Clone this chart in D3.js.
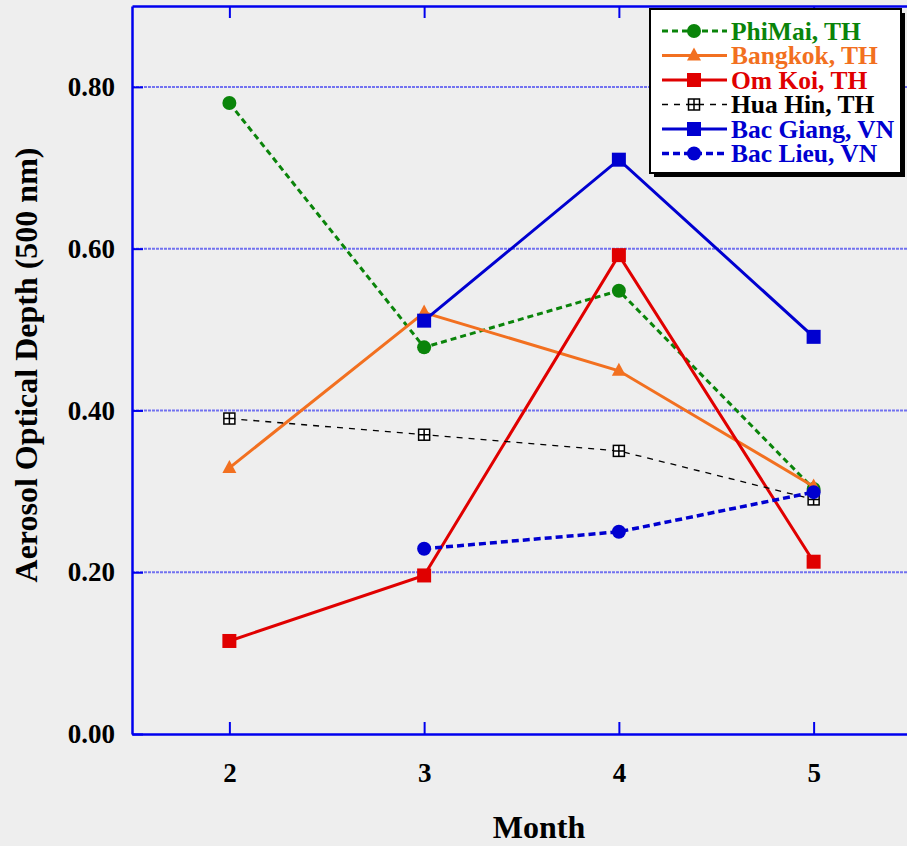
<!DOCTYPE html>
<html>
<head>
<meta charset="utf-8">
<script src="https://cdn.jsdelivr.net/npm/d3@7"></script>
<style>
  html, body { margin: 0; padding: 0; background: #eeeeee; }
  svg { display: block; }
  text { font-family: "Liberation Serif", "Times New Roman", serif; font-weight: bold; }
</style>
</head>
<body>
<svg id="chart" width="907" height="846"></svg>
<script>
// Monthly aerosol optical depth (500 nm) per site
const months = [2, 3, 4, 5];
const yTicks = [0, 0.2, 0.4, 0.6, 0.8];

const phiMai    = [0.780, 0.478, 0.548, 0.303];
const bangkok   = [0.329, 0.521, 0.449, 0.306];
const omKoi     = [0.115, 0.196, 0.592, 0.213];
const huaHin    = [0.390, 0.370, 0.350, 0.290];
const bacGiang  = [null, 0.511, 0.710, 0.491];
const bacLieu   = [null, 0.229, 0.250, 0.299];

const seriesNames = ["PhiMai, TH", "Bangkok, TH", "Om Koi, TH", "Hua Hin, TH", "Bac Giang, VN", "Bac Lieu, VN"];

const series = [
  { name: seriesNames[0], values: phiMai,   color: "#0a840a", width: 3,   dash: "6,4", marker: "circle" },
  { name: seriesNames[1], values: bangkok,  color: "#f27020", width: 3,   dash: null,  marker: "triangle" },
  { name: seriesNames[2], values: omKoi,    color: "#e00000", width: 3,   dash: null,  marker: "square" },
  { name: seriesNames[3], values: huaHin,   color: "#000000", width: 1.3, dash: "6,6", marker: "boxcross" },
  { name: seriesNames[4], values: bacGiang, color: "#0000d0", width: 3,   dash: null,  marker: "square" },
  { name: seriesNames[5], values: bacLieu,  color: "#0000d0", width: 3.5, dash: "7,4", marker: "circle" }
];

const svg = d3.select("#chart");
const plotLeft = 132, plotRight = 911, plotTop = 6, plotBottom = 734;
const axisColor = "#0000ee";

const x = d3.scaleLinear().domain([1.5, 5.5]).range([plotLeft, plotRight]);
const y = d3.scaleLinear().domain([0, 0.9]).range([plotBottom, plotTop]);

// gridlines
svg.append("g").selectAll("line").data(yTicks.filter(d => d > 0)).join("line")
  .attr("x1", plotLeft).attr("x2", plotRight)
  .attr("y1", d => y(d)).attr("y2", d => y(d))
  .attr("stroke", "#7272f0").attr("stroke-width", 2)
  .attr("stroke-dasharray", "3,1");

// axes
const yAxis = d3.axisLeft(y).tickValues(yTicks).tickFormat(d3.format(".2f")).tickSizeInner(-11).tickSizeOuter(0).tickPadding(17);
const gy = svg.append("g").attr("transform", `translate(${plotLeft},0)`).call(yAxis);
const xAxis = d3.axisBottom(x).tickValues(months).tickFormat(d3.format("d")).tickSizeInner(-12).tickSizeOuter(0);
const gx = svg.append("g").attr("transform", `translate(0,${plotBottom})`).call(xAxis);
const xTop = d3.axisTop(x).tickValues(months).tickFormat("").tickSizeInner(-12).tickSizeOuter(0);
const gt = svg.append("g").attr("transform", `translate(0,${plotTop})`).call(xTop);

[gy, gx, gt].forEach(g => {
  g.select(".domain").attr("stroke", axisColor).attr("stroke-width", 2.5);
  g.selectAll(".tick line").attr("stroke", axisColor).attr("stroke-width", 2);
  g.selectAll(".tick text").attr("fill", "#000").attr("font-size", 27)
    .attr("font-family", "Liberation Serif, serif").attr("font-weight", "bold");
});
gx.selectAll(".tick text").attr("y", 48).attr("dy", 0);

// axis titles
svg.append("text").attr("x", 539).attr("y", 838).attr("text-anchor", "middle")
  .attr("font-size", 32).text("Month");
svg.append("text").attr("transform", "translate(37,365) rotate(-90)")
  .attr("text-anchor", "middle").attr("font-size", 32)
  .text("Aerosol Optical Depth (500 nm)");

// markers
function drawMarker(g, type, cx, cy, color) {
  if (type === "circle") {
    g.append("circle").attr("cx", cx).attr("cy", cy).attr("r", 7).attr("fill", color);
  } else if (type === "square") {
    g.append("rect").attr("x", cx - 7).attr("y", cy - 7).attr("width", 14).attr("height", 14).attr("fill", color);
  } else if (type === "triangle") {
    g.append("path").attr("d", `M${cx},${cy - 8} L${cx + 7},${cy + 5} L${cx - 7},${cy + 5} Z`).attr("fill", color);
  } else if (type === "boxcross") {
    g.append("rect").attr("x", cx - 5.5).attr("y", cy - 5.5).attr("width", 11).attr("height", 11)
      .attr("fill", "#fff").attr("stroke", color).attr("stroke-width", 1.5);
    g.append("path").attr("d", `M${cx - 5.5},${cy} H${cx + 5.5} M${cx},${cy - 5.5} V${cy + 5.5}`)
      .attr("stroke", color).attr("stroke-width", 1.5);
  }
}

const line = d3.line().defined(d => d[1] !== null).x(d => x(d[0])).y(d => y(d[1]));
const plot = svg.append("g");
series.forEach(s => {
  const pts = months.map((m, i) => [m, s.values[i]]);
  const g = plot.append("g");
  g.append("path").datum(pts).attr("d", line).attr("fill", "none")
    .attr("stroke", s.color).attr("stroke-width", s.width)
    .attr("stroke-dasharray", s.dash);
  pts.filter(d => d[1] !== null).forEach(d => drawMarker(g, s.marker, x(d[0]), y(d[1]), s.color));
});

// legend
const lg = svg.append("g");
const lx = 650, ly = 9, lw = 251, lh = 164;
lg.append("rect").attr("x", lx + 4).attr("y", ly + 4).attr("width", lw).attr("height", lh).attr("fill", "#000");
lg.append("rect").attr("x", lx).attr("y", ly).attr("width", lw).attr("height", lh)
  .attr("fill", "#fff").attr("stroke", "#000").attr("stroke-width", 2);
series.forEach((s, i) => {
  const cy = 31 + i * 24.5;
  lg.append("line").attr("x1", 662).attr("x2", 727).attr("y1", cy).attr("y2", cy)
    .attr("stroke", s.color).attr("stroke-width", s.width).attr("stroke-dasharray", s.dash);
  drawMarker(lg, s.marker, 694, cy, s.color);
  lg.append("text").attr("x", 731).attr("y", cy + 8.5).attr("font-size", 25.5)
    .attr("fill", s.color).text(s.name);
});
</script>
</body>
</html>
